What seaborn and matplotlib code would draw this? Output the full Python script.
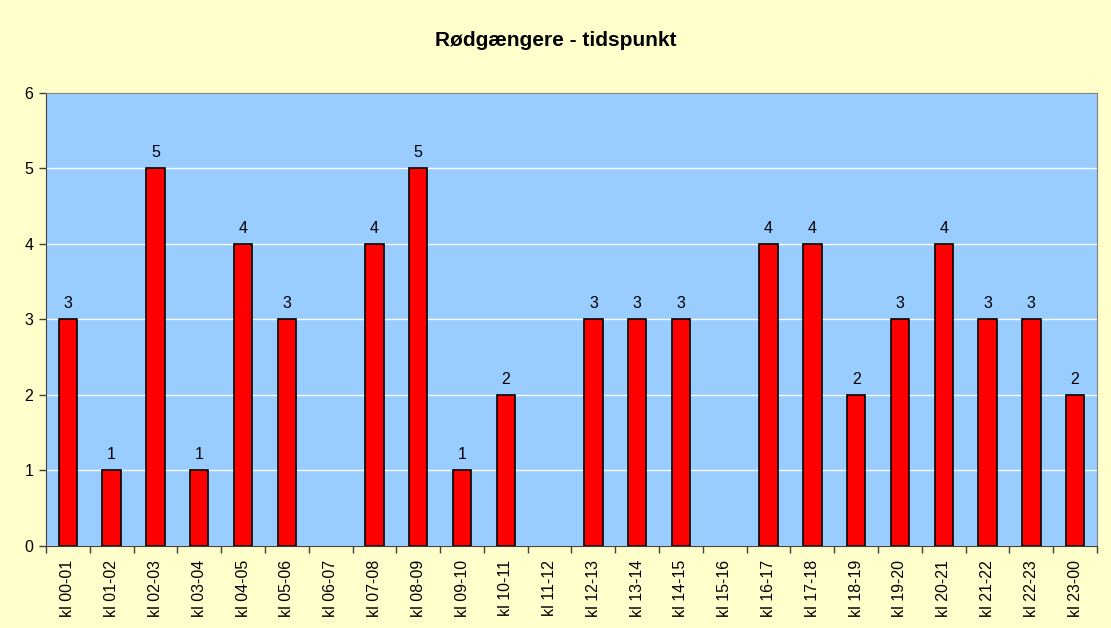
import numpy as np
import pandas as pd
import seaborn as sns
import matplotlib.pyplot as plt

# ==============================
#  DATA
# ==============================
hours = ["kl 00-01", "kl 01-02", "kl 02-03", "kl 03-04", "kl 04-05", "kl 05-06",
         "kl 06-07", "kl 07-08", "kl 08-09", "kl 09-10", "kl 10-11", "kl 11-12",
         "kl 12-13", "kl 13-14", "kl 14-15", "kl 15-16", "kl 16-17", "kl 17-18",
         "kl 18-19", "kl 19-20", "kl 20-21", "kl 21-22", "kl 22-23", "kl 23-00"]
counts = [3, 1, 5, 1, 4, 3, 0, 4, 5, 1, 2, 0, 3, 3, 3, 0, 4, 4, 2, 3, 4, 3, 3, 2]
title = "Rødgængere - tidspunkt"

df = pd.DataFrame({"hour": hours, "count": counts})

# ==============================
#  PLOT
# ==============================
sns.set_style("white")
plt.rcParams['font.family'] = ['Liberation Sans', 'DejaVu Sans']
plt.rcParams['text.color'] = "black"
plt.rcParams['xtick.color'] = "black"
plt.rcParams['ytick.color'] = "black"

fig = plt.figure(figsize=(11.11, 6.28), dpi=100, facecolor="#FFFFCC")
ax = fig.add_axes([0.0414, 0.1306, 0.9460, 0.7214])
ax.set_facecolor("#99CCFF")

sns.barplot(data=df, x="hour", y="count", color="#FF0000", edgecolor="black",
            linewidth=1.2, width=0.42, saturation=1, ax=ax, zorder=3)

# empty hours get no visible bar
for patch, v in zip(ax.containers[0], counts):
    if v == 0:
        patch.set_visible(False)

ax.set_ylim(0, 6)
ax.set_yticks(range(0, 7))
ax.yaxis.grid(True, color="white", linewidth=1, zorder=0)
ax.set_axisbelow(True)
ax.set_xlim(-0.5, len(hours) - 0.5)

# category ticks sit between bars
ax.set_xticks(range(len(hours)))
ax.set_xticklabels(hours, rotation=90, fontsize=11.5)
ax.set_xticks(np.arange(-0.5, len(hours)), minor=True)
ax.tick_params(axis="x", which="major", bottom=True, length=0, pad=10)
ax.tick_params(axis="x", which="minor", bottom=True, length=5, color="#404040", width=1)
ax.tick_params(axis="y", left=True, length=5, color="#404040", width=1,
               labelsize=11.5, pad=4)

for side in ["left", "right", "top", "bottom"]:
    ax.spines[side].set_visible(True)
ax.spines["left"].set_color("#404040")
ax.spines["bottom"].set_color("#404040")
ax.spines["right"].set_color("#808080")
ax.spines["top"].set_color("#808080")

labels = [str(v) if v > 0 else "" for v in counts]
ax.bar_label(ax.containers[0], labels=labels, padding=6, fontsize=11.5)

ax.set_xlabel("")
ax.set_ylabel("")
fig.text(0.5, 0.936, title, ha="center", va="center", fontsize=15, fontweight="bold")

fig.savefig("out.png", dpi=100, facecolor=fig.get_facecolor())
